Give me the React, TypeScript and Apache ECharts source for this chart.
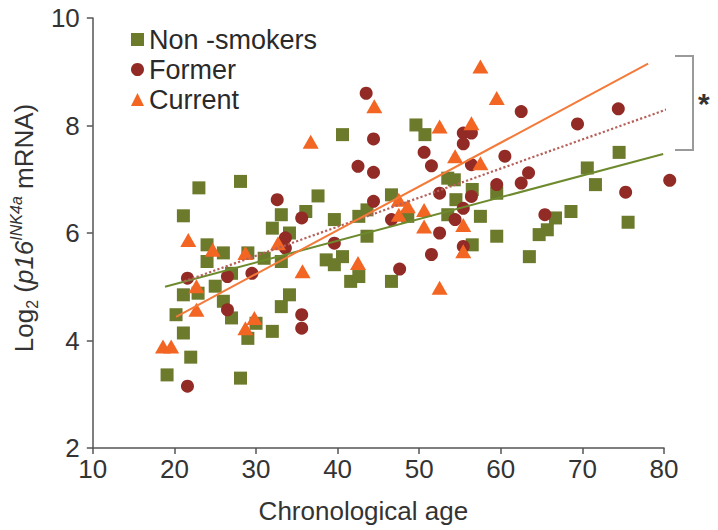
import React, { useEffect, useRef } from "react";
import * as echarts from "echarts";

const FONT = "'Liberation Sans', Arial, Helvetica, sans-serif";

const nonSmokerAge = [19.1, 20.2, 21.1, 22.0, 21.1, 23.0, 21.1, 22.9, 24.0, 24.0, 26.0, 25.0, 26.0, 27.0, 27.0, 28.1, 28.1, 29.0, 29.0, 30.0, 31.0, 32.0, 32.0, 33.1, 33.1, 34.1, 33.1, 34.1, 36.1, 37.6, 38.6, 39.6, 39.6, 40.6, 40.6, 41.6, 42.6, 42.6, 43.6, 43.6, 46.6, 46.6, 48.6, 49.6, 50.7, 53.5, 54.3, 54.5, 56.5, 56.5, 57.5, 53.5, 59.5, 59.5, 63.5, 64.7, 65.7, 66.7, 68.6, 70.6, 71.6, 74.5, 75.6];
const nonSmokerLog2 = [3.36, 4.48, 4.14, 3.69, 6.32, 6.84, 4.85, 4.88, 5.78, 5.47, 5.63, 5.01, 4.73, 4.42, 5.25, 6.96, 3.3, 4.04, 5.63, 4.32, 5.53, 4.17, 6.09, 6.34, 5.47, 6.0, 4.63, 4.85, 6.4, 6.69, 5.5, 6.25, 5.41, 5.56, 7.83, 5.1, 5.19, 6.31, 5.94, 6.43, 6.71, 5.1, 6.31, 8.01, 7.83, 7.02, 6.99, 6.62, 6.81, 5.78, 6.31, 6.34, 6.74, 5.94, 5.56, 5.97, 6.06, 6.28, 6.4, 7.21, 6.9, 7.5, 6.2];

const formerAge = [21.6, 21.6, 26.5, 26.5, 29.5, 32.6, 33.6, 33.6, 35.6, 35.6, 35.6, 39.6, 42.5, 43.5, 44.4, 44.4, 44.4, 46.6, 47.6, 50.6, 51.5, 51.5, 52.5, 52.5, 54.4, 55.4, 55.4, 56.4, 55.4, 55.4, 56.4, 56.4, 60.5, 59.5, 62.5, 62.5, 63.4, 65.4, 69.4, 74.4, 75.3, 80.7];
const formerLog2 = [3.15, 5.16, 5.19, 4.57, 5.25, 6.62, 5.91, 5.72, 6.28, 4.48, 4.23, 5.81, 7.24, 8.6, 7.75, 7.13, 6.59, 6.25, 5.33, 7.5, 7.25, 5.6, 6.74, 6.0, 6.25, 7.86, 7.66, 7.86, 6.46, 5.75, 7.27, 6.68, 7.43, 6.9, 8.26, 6.93, 7.12, 6.34, 8.03, 8.31, 6.76, 6.98];

const currentAge = [18.6, 19.6, 21.7, 22.7, 22.7, 24.7, 28.7, 28.7, 29.8, 32.7, 35.7, 36.7, 42.5, 44.5, 47.5, 47.5, 48.6, 50.6, 50.6, 52.5, 52.5, 54.4, 55.4, 55.4, 56.4, 57.5, 57.5, 59.5];
const currentLog2 = [3.89, 3.89, 5.87, 5.01, 4.57, 5.69, 5.63, 4.23, 4.42, 5.81, 5.29, 7.7, 5.44, 8.36, 6.62, 6.34, 6.5, 6.43, 6.12, 7.98, 4.98, 7.43, 6.15, 5.66, 8.04, 7.3, 9.1, 8.51];

// regression line end points [age, log2]
const fitNonSmokers = [[18.85, 5.0], [79.9, 7.47]];
const fitFormer = [[21.2, 5.1], [80.9, 8.33]];
const fitCurrent = [[20.2, 4.44], [78.05, 9.15]];

const seriesNames = ["Non -smokers", "Former", "Current"];

const zip = (a: number[], b: number[]) => a.map((v, i) => [v, b[i]]);

export default function App() {
  const ref = useRef<HTMLDivElement>(null);
  useEffect(() => {
    document.body.style.margin = "0";
    const chart = echarts.init(ref.current!, null, { renderer: "svg" });
    const axisCommon = {
      axisLine: { show: true, lineStyle: { color: "#555", width: 1.5 } },
      axisTick: { show: true, length: 6, lineStyle: { color: "#555", width: 1.5 } },
      splitLine: { show: false },
      axisLabel: { fontSize: 26, color: "#333", fontFamily: FONT },
    };
    chart.setOption({
      animation: false,
      backgroundColor: "#fff",
      grid: { left: 89, right: 54, top: 18, bottom: 82 },
      legend: {
        data: seriesNames,
        orient: "vertical",
        left: 131,
        top: 26,
        padding: 0,
        itemWidth: 13,
        itemHeight: 13,
        itemGap: 3,
        itemStyle: { opacity: 1 },
        textStyle: { fontSize: 27, color: "#2a2a2a", fontFamily: FONT, padding: [0, 0, 0, 0] },
      },
      xAxis: {
        type: "value",
        min: 10,
        max: 80,
        interval: 10,
        ...axisCommon,
        axisLabel: { ...axisCommon.axisLabel, margin: 8 },
        name: "Chronological age",
        nameLocation: "middle",
        nameGap: 50,
        nameTextStyle: { fontSize: 26, color: "#333", fontFamily: FONT, padding: [0, 30, 0, 0] },
      },
      yAxis: {
        type: "value",
        min: 2,
        max: 10,
        interval: 2,
        ...axisCommon,
        axisLabel: { ...axisCommon.axisLabel, margin: 13 },
        name: "{a|Log}{sub|2}{a| (}{i|p16}{sup|INK4a}{a| mRNA)}",
        nameLocation: "middle",
        nameRotate: 90,
        nameGap: 30,
        nameTextStyle: {
          fontFamily: FONT,
          color: "#333",
          padding: [0, 0, 0, 10],
          rich: {
            a: { fontSize: 26, fontFamily: FONT, color: "#333", lineHeight: 32, verticalAlign: "middle" },
            i: { fontSize: 26, fontFamily: FONT, fontStyle: "italic", color: "#333", lineHeight: 32, verticalAlign: "middle" },
            sub: { fontSize: 16, fontFamily: FONT, color: "#333", lineHeight: 16, verticalAlign: "bottom" },
            sup: { fontSize: 16, fontFamily: FONT, fontStyle: "italic", color: "#333", lineHeight: 16, verticalAlign: "top" },
          },
        },
      },
      series: [
        {
          name: seriesNames[0],
          type: "scatter",
          symbol: "rect",
          symbolSize: 13,
          clip: false,
          itemStyle: { color: "#6b7a2b", opacity: 1 },
          data: zip(nonSmokerAge, nonSmokerLog2),
          z: 2,
        },
        {
          name: seriesNames[1],
          type: "scatter",
          symbol: "circle",
          symbolSize: 13,
          clip: false,
          itemStyle: { color: "#922a25", opacity: 1 },
          data: zip(formerAge, formerLog2),
          z: 3,
        },
        {
          name: seriesNames[2],
          type: "scatter",
          symbol: "triangle",
          symbolSize: [16, 14],
          clip: false,
          itemStyle: { color: "#f26522", opacity: 1 },
          data: zip(currentAge, currentLog2),
          z: 4,
        },
        {
          name: "fitNon",
          type: "line",
          symbol: "none",
          clip: false,
          lineStyle: { color: "#6e8a2e", width: 2 },
          data: fitNonSmokers,
          z: 5,
        },
        {
          name: "fitFormer",
          type: "line",
          symbol: "none",
          clip: false,
          lineStyle: { color: "#b5605a", width: 2.2, type: "dotted" },
          data: fitFormer,
          z: 5,
        },
        {
          name: "fitCurrent",
          type: "line",
          symbol: "none",
          clip: false,
          lineStyle: { color: "#f47a3a", width: 2 },
          data: fitCurrent,
          z: 5,
        },
      ],
      graphic: [
        {
          type: "polyline",
          shape: { points: [[675, 56], [693, 56], [693, 150], [675, 150]] },
          style: { stroke: "#9a9a9a", lineWidth: 2, fill: null },
        },
        {
          type: "text",
          x: 698,
          y: 88,
          style: { text: "*", fontSize: 30, fontWeight: "bold", fill: "#333", fontFamily: FONT },
        },
      ],
    });
    return () => chart.dispose();
  }, []);
  return <div ref={ref} style={{ position: "fixed", left: 0, top: 0, width: 718, height: 530 }} />;
}
